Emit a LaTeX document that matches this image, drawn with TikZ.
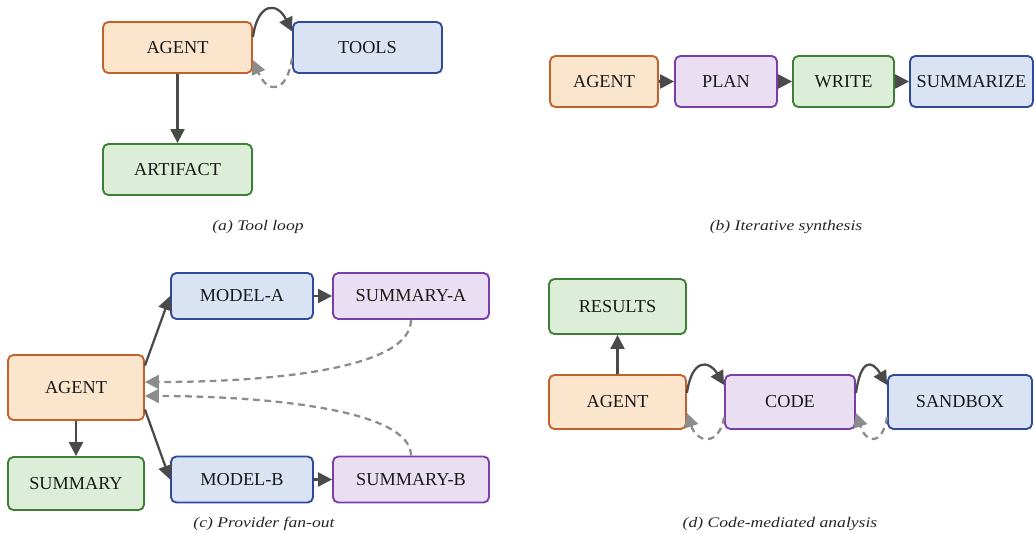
\documentclass[tikz,border=0pt]{standalone}
\usepackage{fontspec}
\setmainfont{Liberation Serif}
\newfontfamily\capfont[FakeStretch=1.2]{Liberation Serif}
\usetikzlibrary{arrows.meta,calc}
\definecolor{orF}{HTML}{FBE5CD}\definecolor{orD}{HTML}{C4612B}
\definecolor{blF}{HTML}{DAE3F3}\definecolor{blD}{HTML}{2E4A99}
\definecolor{grF}{HTML}{DCEDD8}\definecolor{grD}{HTML}{3C7F35}
\definecolor{puF}{HTML}{EADFF2}\definecolor{puD}{HTML}{7A3DAA}
\definecolor{arr}{HTML}{4A4A4A}\definecolor{dsh}{HTML}{8C8C8C}
\tikzset{
  box/.style={draw, rounded corners=4pt, line width=1.4pt, inner sep=1pt,
    font=\fontsize{13.7}{16}\selectfont, text=black!90},
  orb/.style={box, fill=orF, draw=orD},
  blb/.style={box, fill=blF, draw=blD},
  grb/.style={box, fill=grF, draw=grD},
  pub/.style={box, fill=puF, draw=puD},
  sz/.style 2 args={minimum width=#1*0.75pt, minimum height=#2*0.75pt},
  solidarr/.style={draw=arr, line width=1.7pt, -{Triangle[length=10.5pt,width=10.5pt,fill=arr]}},
  dasharr/.style={draw=dsh, line width=1.7pt, dash pattern=on 5pt off 3.5pt,
    -{Triangle[length=10.5pt,width=10.5pt,fill=dsh]}},
  captext/.style={font=\capfont\itshape\fontsize{11}{13}\selectfont, text=black!85}
}
\begin{document}
\begin{tikzpicture}[x=0.75pt,y=-0.75pt]
\useasboundingbox (0,0) rectangle (1034,533);
% (a)
\node[orb, sz={149}{51}] (aA) at (177.5,47.5) {AGENT};
\node[blb, sz={149}{51}] (aT) at (367.5,47.5) {TOOLS};
\node[grb, sz={149}{51}] (aR) at (177.5,169.5) {ARTIFACT};
\draw[solidarr] (aA) -- (aR);
\draw[solidarr] ($(aA.east)+(0,-10.5)$) .. controls +(5,-35) and +(-15,-30) .. ($(aT.west)+(0,-16)$);
\draw[dasharr] ($(aT.west)+(0,10.5)$) .. controls +(-5,35) and +(15,35) .. ($(aA.east)+(0,12.5)$);
\node[captext] (capa) at (258,227) {(a) Tool loop};
% (b)
\node[orb, sz={108}{51}] (bA) at (604,81.5) {AGENT};
\node[pub, sz={102}{51}] (bP) at (726,81.5) {PLAN};
\node[grb, sz={101}{51}] (bW) at (843.5,81.5) {WRITE};
\node[blb, sz={123}{51}] (bS) at (971.5,81.5) {SUMMARIZE};
\draw[solidarr] (bA) -- (bP);
\draw[solidarr] (bP) -- (bW);
\draw[solidarr] (bW) -- (bS);
\node[captext] (capb) at (786,227) {(b) Iterative synthesis};
% (c)
\node[blb, sz={142}{46}] (cMA) at (242,296) {MODEL-A};
\node[pub, sz={156}{46}] (cSA) at (411,296) {SUMMARY-A};
\node[orb, sz={136}{65}] (cA) at (76,387.5) {AGENT};
\node[grb, sz={136}{53}] (cS) at (76,483.5) {SUMMARY};
\node[blb, sz={142}{46}] (cMB) at (242,479.5) {MODEL-B};
\node[pub, sz={156}{46}] (cSB) at (411,479.5) {SUMMARY-B};
\draw[solidarr] ($(cA.east)+(0,-22)$) -- (cMA.west);
\draw[solidarr] ($(cA.east)+(0,22)$) -- (cMB.west);
\draw[solidarr] (cA) -- (cS);
\draw[solidarr] (cMA) -- (cSA);
\draw[solidarr] (cMB) -- (cSB);
\draw[dasharr] (cSA.south) .. controls +(0,51) and +(116,0) .. ($(cA.east)+(0,-5.5)$);
\draw[dasharr] (cSB.north) .. controls +(0,-47) and +(116,0) .. ($(cA.east)+(0,8.5)$);
\node[captext] (capc) at (264,524) {(c) Provider fan-out};
% (d)
\node[grb, sz={137}{55}] (dR) at (617.5,306.5) {RESULTS};
\node[orb, sz={137}{54}] (dA) at (617.5,402) {AGENT};
\node[pub, sz={130}{54}] (dC) at (790,402) {CODE};
\node[blb, sz={144}{54}] (dS) at (960,402) {SANDBOX};
\draw[solidarr] (dA) -- (dR);
\draw[solidarr] ($(dA.east)+(0,-9)$) .. controls +(5,-35) and +(-15,-25) .. ($(dC.west)+(0,-17)$);
\draw[dasharr] ($(dC.west)+(0,15)$) .. controls +(-5,30) and +(10,30) .. ($(dA.east)+(0,11)$);
\draw[solidarr] ($(dC.east)+(0,-9)$) .. controls +(5,-35) and +(-15,-25) .. ($(dS.west)+(0,-17)$);
\draw[dasharr] ($(dS.west)+(0,15)$) .. controls +(-5,30) and +(10,30) .. ($(dC.east)+(0,11)$);
\node[captext] (capd) at (780,524) {(d) Code-mediated analysis};
\end{tikzpicture}
\end{document}
